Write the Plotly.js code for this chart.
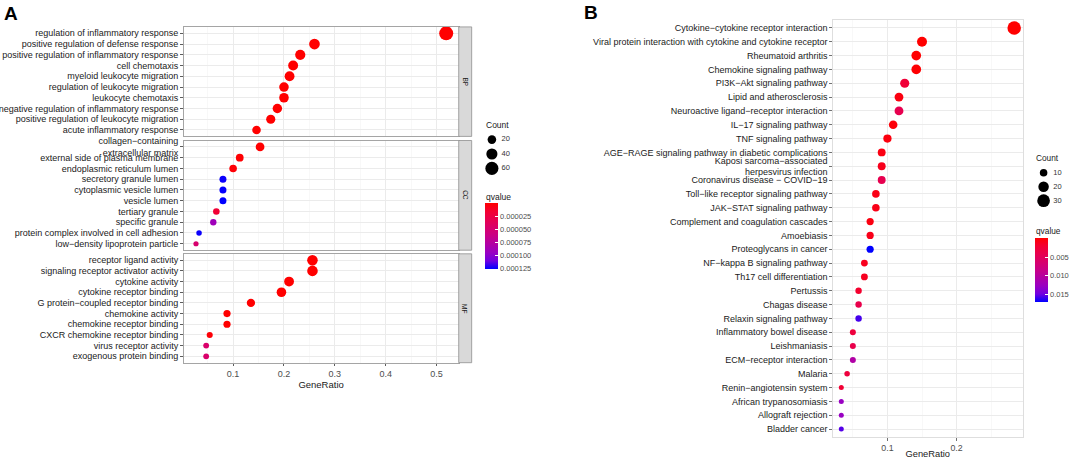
<!DOCTYPE html>
<html>
<head>
<meta charset="utf-8">
<script src="https://cdn.plot.ly/plotly-3.0.1.min.js"></script>
<style>html,body{margin:0;padding:0;background:#fff;} #chart{width:1072px;height:459px;}</style>
</head>
<body>
<div id="chart"></div>
<script>
// ---------- Panel A : GO enrichment ----------
const bpTerms = ['regulation of inflammatory response','positive regulation of defense response','positive regulation of inflammatory response','cell chemotaxis','myeloid leukocyte migration','regulation of leukocyte migration','leukocyte chemotaxis','negative regulation of inflammatory response','positive regulation of leukocyte migration','acute inflammatory response'];
const bpRatio = [0.519,0.260,0.232,0.218,0.211,0.200,0.200,0.187,0.174,0.146];
const bpCount = [71,36,32,30,29,27,27,26,24,20];
const bpQ = [3.2e-20,1.1e-10,4.5e-11,2.0e-12,6.8e-12,1.5e-10,3.3e-11,8.0e-9,2.4e-8,5.1e-9];

const ccTerms = ['collagen\u2212containing<br>extracellular matrix','external side of plasma membrane','endoplasmic reticulum lumen','secretory granule lumen','cytoplasmic vesicle lumen','vesicle lumen','tertiary granule','specific granule','protein complex involved in cell adhesion','low\u2212density lipoprotein particle'];
const ccRatio = [0.153,0.113,0.100,0.080,0.080,0.080,0.067,0.061,0.033,0.027];
const ccCount = [21,15,14,11,11,11,9,8,5,4];
const ccQ = [2.0e-7,8.5e-7,1.9e-6,1.24e-4,1.25e-4,1.255e-4,1.8e-5,9.0e-5,1.24e-4,4.8e-5];

const mfTerms = ['receptor ligand activity','signaling receptor activator activity','cytokine activity','cytokine receptor binding','G protein\u2212coupled receptor binding','chemokine activity','chemokine receptor binding','CXCR chemokine receptor binding','virus receptor activity','exogenous protein binding'];
const mfRatio = [0.256,0.256,0.210,0.195,0.135,0.088,0.088,0.054,0.047,0.047];
const mfCount = [35,35,29,27,18,12,12,7,6,6];
const mfQ = [1.5e-13,2.0e-13,3.5e-12,6.1e-11,4.2e-7,9.3e-8,1.4e-7,2.2e-6,4.6e-5,4.6e-5];

const ontologies = ['BP','CC','MF'];
const countBreaksA = [20,40,60];
const qTicksA = [0.000025,0.000050,0.000075,0.000100,0.000125];
const qTickTextA = ['0.000025','0.000050','0.000075','0.000100','0.000125'];
const xTicksA = [0.1,0.2,0.3,0.4,0.5];

// ---------- Panel B : KEGG enrichment ----------
const keggTerms = ['Cytokine\u2212cytokine receptor interaction','Viral protein interaction with cytokine and cytokine receptor','Rheumatoid arthritis','Chemokine signaling pathway','PI3K\u2212Akt signaling pathway','Lipid and atherosclerosis','Neuroactive ligand\u2212receptor interaction','IL\u221217 signaling pathway','TNF signaling pathway','AGE\u2212RAGE signaling pathway in diabetic complications','Kaposi sarcoma\u2212associated<br>herpesvirus infection','Coronavirus disease \u2212 COVID\u221219','Toll\u2212like receptor signaling pathway','JAK\u2212STAT signaling pathway','Complement and coagulation cascades','Amoebiasis','Proteoglycans in cancer','NF\u2212kappa B signaling pathway','Th17 cell differentiation','Pertussis','Chagas disease','Relaxin signaling pathway','Inflammatory bowel disease','Leishmaniasis','ECM\u2212receptor interaction','Malaria','Renin\u2212angiotensin system','African trypanosomiasis','Allograft rejection','Bladder cancer'];
const keggRatio = [0.2833,0.1500,0.1417,0.1417,0.1250,0.1167,0.1167,0.1083,0.1000,0.0917,0.0917,0.0917,0.0833,0.0833,0.0750,0.0750,0.0750,0.0667,0.0667,0.0583,0.0583,0.0583,0.0500,0.0500,0.0500,0.0417,0.0333,0.0333,0.0333,0.0333];
const keggCount = [34,18,17,17,15,14,14,13,12,11,11,11,10,10,9,9,9,8,8,7,7,7,6,6,6,5,4,4,4,4];
const keggQ = [1.0e-10,1.0e-6,5.0e-5,1.0e-4,0.0026,0.0007,0.0043,0.0004,0.0006,0.0008,0.0012,0.0043,0.0009,0.0010,0.0007,0.0011,0.0171,0.0013,0.0014,0.0020,0.0040,0.0158,0.0030,0.0040,0.0107,0.0030,0.0024,0.0128,0.0128,0.0155];
const countBreaksB = [10,20,30];
const qTicksB = [0.005,0.010,0.015];
const qTickTextB = ['0.005','0.010','0.015'];
const xTicksB = [0.1,0.2];

// ---------- styling helpers ----------
const W = 1072, H = 459;
const px = v => v / W;
const py = v => 1 - v / H;
const FONT = 'Liberation Sans, Arial, Helvetica, sans-serif';
// red (low q) -> blue (high q), Lab-like interpolation; applied to -q so red sits on top of the bar
const CSCALE = [[0,'rgb(0,0,255)'],[0.125,'rgb(113,0,224)'],[0.25,'rgb(153,0,194)'],[0.5,'rgb(200,0,136)'],[0.75,'rgb(231,0,79)'],[0.875,'rgb(243,0,49)'],[1,'rgb(255,0,0)']];

function sizer(lo, hi, dlo, dhi) {
  const a = Math.sqrt(lo), b = Math.sqrt(hi);
  return c => dlo + (Math.sqrt(c) - a) / (b - a) * (dhi - dlo);
}
const allCountA = bpCount.concat(ccCount, mfCount);
const sizeA = sizer(Math.min(...allCountA), Math.max(...allCountA), 5.2, 14);
const sizeB = sizer(Math.min(...keggCount), Math.max(...keggCount), 5, 13.5);
const allQA = bpQ.concat(ccQ, mfQ);
const qMinA = Math.min(...allQA), qMaxA = Math.max(...allQA);
const qMinB = Math.min(...keggQ), qMaxB = Math.max(...keggQ);

const neg = arr => arr.map(v => -v);
const LABEL_A = 9, LABEL_B = 9;

const traces = [];
const groupsA = [
  {terms: bpTerms, ratio: bpRatio, count: bpCount, q: bpQ},
  {terms: ccTerms, ratio: ccRatio, count: ccCount, q: ccQ},
  {terms: mfTerms, ratio: mfRatio, count: mfCount, q: mfQ}
];
groupsA.forEach((g, i) => {
  const sfx = i === 0 ? '' : String(i + 1);
  const marker = {
    size: g.count.map(sizeA), color: neg(g.q), colorscale: CSCALE,
    cmin: -qMaxA, cmax: -qMinA, line: {width: 0}, opacity: 1
  };
  if (i === 0) {
    marker.showscale = true;
    marker.colorbar = {
      x: px(486), xanchor: 'left', xpad: 0, ypad: 0,
      y: py(236), yanchor: 'middle', len: 66, lenmode: 'pixels', thickness: 13,
      outlinewidth: 0, tickvals: neg(qTicksA), ticktext: qTickTextA,
      ticks: 'inside', ticklen: 3, tickcolor: '#ffffff', tickwidth: 1,
      tickfont: {family: FONT, size: 7.5, color: '#4D4D4D'}
    };
  }
  traces.push({
    type: 'scatter', mode: 'markers', x: g.ratio, y: g.terms,
    xaxis: 'x' + sfx, yaxis: 'y' + sfx, marker: marker,
    hoverinfo: 'x+y', showlegend: false
  });
});

traces.push({
  type: 'scatter', mode: 'markers', x: keggRatio, y: keggTerms, xaxis: 'x4', yaxis: 'y4',
  marker: {
    size: keggCount.map(sizeB), color: neg(keggQ), colorscale: CSCALE, opacity: 1,
    cmin: -qMaxB, cmax: -qMinB, line: {width: 0}, showscale: true,
    colorbar: {
      x: px(1038), xanchor: 'left', xpad: 0, ypad: 0,
      y: py(270.3), yanchor: 'middle', len: 64, lenmode: 'pixels', thickness: 13,
      outlinewidth: 0, tickvals: neg(qTicksB), ticktext: qTickTextB,
      ticks: 'inside', ticklen: 3, tickcolor: '#ffffff', tickwidth: 1,
      tickfont: {family: FONT, size: 7.5, color: '#4D4D4D'}
    }
  },
  hoverinfo: 'x+y', showlegend: false
});

// size legends
traces.push({type: 'scatter', mode: 'markers', x: countBreaksA.map(() => 0), y: countBreaksA.map(String),
  xaxis: 'x5', yaxis: 'y5', marker: {size: countBreaksA.map(sizeA), color: '#000000', opacity: 1, line: {width: 0}},
  hoverinfo: 'skip', showlegend: false});
traces.push({type: 'scatter', mode: 'text', x: countBreaksA.map(() => 1), y: countBreaksA.map(String),
  text: countBreaksA.map(String), textposition: 'middle right',
  textfont: {family: FONT, size: 7.5, color: '#333333'},
  xaxis: 'x5', yaxis: 'y5', hoverinfo: 'skip', showlegend: false});
traces.push({type: 'scatter', mode: 'markers', x: countBreaksB.map(() => 0), y: countBreaksB.map(String),
  xaxis: 'x6', yaxis: 'y6', marker: {size: countBreaksB.map(sizeB), color: '#000000', opacity: 1, line: {width: 0}},
  hoverinfo: 'skip', showlegend: false});
traces.push({type: 'scatter', mode: 'text', x: countBreaksB.map(() => 1), y: countBreaksB.map(String),
  text: countBreaksB.map(String), textposition: 'middle right',
  textfont: {family: FONT, size: 7.5, color: '#333333'},
  xaxis: 'x6', yaxis: 'y6', hoverinfo: 'skip', showlegend: false});

// ---------- axes ----------
const rangeA = [0.0024, 0.5436];
const rangeB = [0.0208, 0.2958];
const borderA = '#8F8F8F', borderB = '#D6D6D6';
function xA(showLabels) {
  return {
    domain: [px(184), px(460)], range: rangeA,
    showline: true, mirror: true, linecolor: borderA, linewidth: 0.8,
    showgrid: true, gridcolor: '#EBEBEB', gridwidth: 1, zeroline: false,
    tickvals: xTicksA, ticktext: xTicksA.map(String),
    minor: {dtick: 0.05, tick0: 0, showgrid: true, gridcolor: '#F4F4F4', gridwidth: 0.6, ticks: ''},
    ticks: showLabels ? 'outside' : '', ticklen: 2.5, tickcolor: '#333333', tickwidth: 0.8,
    showticklabels: showLabels,
    tickfont: {family: FONT, size: 9, color: '#4D4D4D'},
    title: showLabels ? {text: 'GeneRatio', font: {family: FONT, size: 9.5, color: '#1A1A1A'}, standoff: 2} : {text: ''}
  };
}
function yA(domain, terms) {
  return {
    domain: domain, type: 'category', categoryorder: 'array', categoryarray: terms,
    tickmode: 'array', tickvals: terms, ticktext: terms,
    range: [terms.length - 0.4, -0.6],
    showline: true, mirror: true, linecolor: borderA, linewidth: 0.8,
    showgrid: true, gridcolor: '#EBEBEB', gridwidth: 1, zeroline: false,
    ticks: 'outside', ticklen: 2.5, tickcolor: '#333333', tickwidth: 0.8,
    tickfont: {family: FONT, size: LABEL_A, color: '#1A1A1A'}
  };
}
const domBP = [py(136.4), py(26.9)];
const domCC = [py(250.2), py(140.5)];
const domMF = [py(362.7), py(253.8)];

const xa1 = xA(false); xa1.anchor = 'y';
const xa2 = xA(false); xa2.anchor = 'y2';
const xa3 = xA(true); xa3.anchor = 'y3';

const layout = {
  width: W, height: H, margin: {l: 0, r: 0, t: 0, b: 0},
  paper_bgcolor: '#ffffff', plot_bgcolor: '#ffffff',
  font: {family: FONT, color: '#1A1A1A'},
  showlegend: false,
  xaxis: xa1, yaxis: Object.assign(yA(domBP, bpTerms), {anchor: 'x'}),
  xaxis2: xa2, yaxis2: Object.assign(yA(domCC, ccTerms), {anchor: 'x2'}),
  xaxis3: xa3, yaxis3: Object.assign(yA(domMF, mfTerms), {anchor: 'x3'}),
  xaxis4: {
    domain: [px(835), px(1025.7)], range: rangeB, anchor: 'y4',
    showline: true, mirror: true, linecolor: borderB, linewidth: 0.8,
    showgrid: true, gridcolor: '#EBEBEB', gridwidth: 1, zeroline: false,
    tickvals: xTicksB, ticktext: xTicksB.map(String),
    minor: {dtick: 0.05, tick0: 0, showgrid: true, gridcolor: '#F4F4F4', gridwidth: 0.6, ticks: ''},
    ticks: 'outside', ticklen: 2.5, tickcolor: '#4D4D4D', tickwidth: 0.8,
    tickfont: {family: FONT, size: 8.8, color: '#4D4D4D'},
    title: {text: 'GeneRatio', font: {family: FONT, size: 9.3, color: '#1A1A1A'}, standoff: 2}
  },
  yaxis4: {
    domain: [py(437.4), py(19.6)], anchor: 'x4', type: 'category', categoryorder: 'array', categoryarray: keggTerms,
    tickmode: 'array', tickvals: keggTerms, ticktext: keggTerms,
    range: [keggTerms.length - 0.4, -0.6],
    showline: true, mirror: true, linecolor: borderB, linewidth: 0.8,
    showgrid: true, gridcolor: '#EBEBEB', gridwidth: 1, zeroline: false,
    ticks: 'outside', ticklen: 2.5, tickcolor: '#4D4D4D', tickwidth: 0.8,
    tickfont: {family: FONT, size: LABEL_B, color: '#1A1A1A'}
  },
  xaxis5: {domain: [px(486), px(522)], range: [-0.75, 2.96], anchor: 'y5', visible: false, fixedrange: true},
  yaxis5: {domain: [py(175.6), py(132.4)], type: 'category', categoryorder: 'array', categoryarray: countBreaksA.map(String),
           range: [2.5, -0.5], anchor: 'x5', visible: false, fixedrange: true},
  xaxis6: {domain: [px(1038), px(1072)], range: [-0.87, 2.6], anchor: 'y6', visible: false, fixedrange: true},
  yaxis6: {domain: [py(207.7), py(165.7)], type: 'category', categoryorder: 'array', categoryarray: countBreaksB.map(String),
           range: [2.5, -0.5], anchor: 'x6', visible: false, fixedrange: true},
  shapes: [],
  annotations: []
};

// facet strips
const doms = [domBP, domCC, domMF];
ontologies.forEach((name, i) => {
  layout.shapes.push({type: 'rect', xref: 'paper', yref: 'paper', x0: px(460), x1: px(473),
    y0: doms[i][0], y1: doms[i][1], fillcolor: '#D9D9D9', line: {color: borderA, width: 0.8}, layer: 'above'});
  layout.annotations.push({xref: 'paper', yref: 'paper', x: px(466.5), y: (doms[i][0] + doms[i][1]) / 2,
    text: name, showarrow: false, textangle: 90, font: {family: FONT, size: 6.5, color: '#1A1A1A'},
    xanchor: 'center', yanchor: 'middle'});
});

// panel letters and legend titles
const addText = (x, y, text, size, bold) => layout.annotations.push({
  xref: 'paper', yref: 'paper', x: px(x), y: py(y), text: bold ? '<b>' + text + '</b>' : text,
  showarrow: false, xanchor: 'left', yanchor: 'middle',
  font: {family: FONT, size: size, color: bold ? '#000000' : '#1A1A1A'}
});
addText(2, 13.5, 'A', 19, true);
addText(584, 12.5, 'B', 19, true);
addText(485, 125, 'Count', 8.5, false);
addText(485, 196.5, 'qvalue', 8.5, false);
addText(1037, 158, 'Count', 8.3, false);
addText(1037, 230.5, 'qvalue', 8.3, false);

Plotly.newPlot('chart', traces, layout, {staticPlot: true, displayModeBar: false});
</script>
</body>
</html>
